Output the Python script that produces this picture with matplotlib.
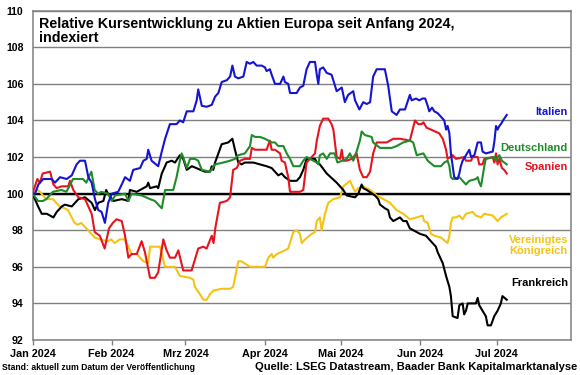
import numpy as np
import pandas as pd
import matplotlib
matplotlib.use("Agg")
import matplotlib.pyplot as plt

plt.rcParams['font.family'] = ['Liberation Sans', 'DejaVu Sans']

# ---------------- data (x = days since 2024-01-01, y = index) ----------------
start_date = "2024-01-01"
end_day = 211.2
month_ticks = ["2024-01-01", "2024-02-01", "2024-03-01", "2024-04-01",
               "2024-05-01", "2024-06-01", "2024-07-01"]
month_labels = ["Jan 2024", "Feb 2024", "Mrz 2024", "Apr 2024",
                "Mai 2024", "Jun 2024", "Jul 2024"]
y_ticks = [92, 94, 96, 98, 100, 102, 104, 106, 108, 110]

it_days = [0, 1.0, 2.3, 4.2, 7.5, 8.8, 10.8, 13.4, 15.4, 17.3,
           18.6, 20.6, 21.9, 23.2, 24.5, 25.8, 27.1, 28.4, 29.7, 31.1,
           33.6, 35.0, 36.3, 38.2, 39.5, 42.2, 43.5, 44.8, 45.4, 46.7,
           49.3, 50.7, 52.0, 53.9, 56.5, 57.8, 59.1, 60.5, 63.1, 64.4,
           65.0, 66.4, 68.3, 70.3, 71.6, 72.9, 74.2, 76.2, 77.5, 78.4,
           79.4, 80.7, 82.7, 84.0, 85.3, 86.6, 87.9, 89.9, 91.2, 91.8,
           93.1, 93.8, 95.1, 97.1, 98.4, 99.0, 100.3, 101.0, 103.6, 104.9,
           106.2, 107.5, 108.8, 110.8, 111.5, 112.1, 112.7, 114.0, 115.4, 117.3,
           119.3, 121.3, 122.5, 123.8, 125.8, 126.5, 128.2, 129.7, 131.1, 132.4,
           133.6, 135.0, 138.2, 139.5, 140.9, 142.8, 144.1, 146.1, 148.0, 148.7,
           150.4, 151.7, 153.0, 154.0, 155.0, 155.6, 156.7, 157.6, 158.9, 160.2,
           161.5, 162.2, 162.8, 163.5, 164.1, 164.8, 165.4, 166.7, 167.4, 168.0,
           168.7, 170.0, 171.3, 172.0, 173.3, 174.6, 175.9, 176.5, 177.8, 180.5,
           181.1, 181.8, 182.4, 183.1, 183.7, 185.0, 186.0]
it_vals = [100.0, 100.0, 100.5, 100.8, 100.8, 100.6, 100.9, 100.8, 101.0, 101.6,
           101.8, 101.8, 100.9, 100.6, 99.7, 99.1, 99.0, 98.4, 99.5, 100.0,
           100.1, 100.5, 100.9, 100.7, 101.3, 101.4, 101.8, 101.9, 102.4, 101.8,
           101.5, 102.3, 103.0, 103.8, 103.8, 104.0, 103.9, 104.5, 104.5, 105.1,
           105.7, 104.8, 104.75, 104.85, 105.3, 105.5, 106.1, 106.2, 106.4, 107.0,
           106.4, 106.3, 106.4, 107.2, 107.1, 107.2, 107.0, 107.0, 106.9, 106.7,
           106.8, 106.5, 106.0, 106.0, 106.4, 106.1, 106.0, 105.5, 105.5, 105.8,
           105.9, 106.8, 107.2, 107.2, 106.5, 106.0, 106.8, 106.9, 106.6, 106.5,
           105.6, 105.8, 105.0, 105.4, 105.6, 105.1, 104.6, 105.0, 104.9, 105.0,
           106.4, 106.8, 106.8, 105.9, 104.5, 104.3, 104.6, 104.6, 105.4, 105.1,
           105.2, 105.1, 105.2, 105.2, 104.8, 104.5, 104.7, 104.5, 104.4, 104.2,
           104.0, 103.5, 103.7, 103.3, 102.2, 101.5, 100.9, 100.8, 101.1, 101.5,
           101.8, 102.1, 102.4, 102.0, 102.1, 102.8, 102.8, 102.3, 102.2, 102.3,
           102.8, 103.7, 103.5, 103.7, 103.8, 104.1, 104.3]

es_days = [0, 1.9, 2.9, 4.0, 6.9, 8.2, 9.5, 11.4, 14.0, 14.7,
           16.0, 18.0, 20.6, 21.9, 23.2, 24.4, 26.4, 28.3, 30.0, 31.5,
           33.0, 35.0, 36.3, 37.6, 38.9, 40.9, 42.8, 44.1, 46.1, 48.0,
           49.3, 51.3, 52.6, 53.9, 55.9, 57.2, 59.1, 62.4, 63.7, 65.0,
           67.0, 68.3, 70.3, 71.0, 71.8, 73.5, 76.2, 77.5, 78.7, 80.1,
           81.4, 83.3, 85.3, 86.0, 87.3, 91.8, 93.1, 93.8, 95.1, 97.1,
           97.7, 99.0, 100.3, 101.0, 104.9, 106.2, 107.5, 109.5, 110.8, 111.5,
           112.7, 114.0, 116.0, 117.3, 118.0, 119.3, 120.6, 121.3, 121.9, 123.2,
           125.2, 127.1, 128.4, 129.7, 131.1, 132.4, 133.6, 135.0, 138.9, 141.5,
           144.1, 148.0, 150.0, 151.3, 152.6, 153.3, 154.6, 156.3, 159.5, 160.9,
           162.2, 162.8, 164.8, 166.1, 169.3, 170.0, 172.0, 172.6, 174.6, 175.2,
           176.5, 177.2, 180.5, 181.1, 181.8, 182.4, 183.1, 184.1, 185.0, 186.0]
es_vals = [100.0, 100.8, 100.6, 101.1, 101.2, 100.5, 100.3, 100.4, 100.4, 100.7,
           100.2, 99.8, 99.7, 99.3, 98.9, 97.9, 97.7, 97.0, 98.1, 98.4,
           98.6, 98.5, 97.7, 96.5, 96.7, 96.7, 97.4, 96.8, 95.4, 95.4,
           95.7, 97.5, 96.9, 96.5, 96.5, 96.9, 95.8, 95.8, 96.4, 97.0,
           97.1, 97.0, 97.7, 97.3, 98.2, 99.5, 99.6, 99.8, 101.3, 101.4,
           101.8, 101.9, 101.9, 102.5, 102.4, 102.4, 102.9, 102.4, 102.4, 102.2,
           101.8, 101.7, 100.9, 100.1, 100.1, 100.2, 101.7, 102.0, 102.2, 102.9,
           103.7, 104.1, 104.1, 103.8, 103.5, 102.0, 101.9, 102.4, 101.8, 101.8,
           101.9, 102.2, 101.3, 100.9, 100.9, 101.2, 102.2, 102.8, 102.8, 103.0,
           103.0, 102.9, 104.0, 103.8, 103.8, 103.9, 103.6, 103.5, 103.3, 103.0,
           102.4, 101.9, 102.1, 101.9, 102.0, 101.8, 101.8, 102.0, 102.0, 101.6,
           101.6, 101.9, 102.0, 101.7, 102.2, 101.6, 101.9, 101.4, 101.3, 101.1]

de_days = [0, 2.2, 4.1, 5.4, 8.0, 11.3, 13.3, 15.9, 19.8, 21.1,
           22.4, 23.1, 24.4, 25.7, 27.0, 29.6, 31.1, 32.4, 36.3, 37.6,
           38.9, 42.8, 46.1, 48.0, 50.0, 50.7, 52.0, 55.2, 56.5, 57.8,
           58.5, 59.1, 60.5, 61.8, 63.7, 65.0, 66.4, 69.6, 71.6, 74.8,
           77.5, 79.4, 80.7, 83.3, 85.3, 86.0, 87.3, 89.2, 91.2, 92.5,
           93.8, 95.1, 96.4, 98.4, 99.7, 101.0, 102.3, 104.9, 106.2, 107.5,
           108.8, 111.5, 112.1, 112.7, 114.0, 115.4, 116.7, 118.5, 119.6, 123.2,
           124.5, 125.8, 127.1, 128.4, 129.1, 130.4, 133.0, 133.6, 136.3, 138.9,
           140.9, 142.8, 145.4, 148.0, 149.3, 150.7, 153.3, 155.0, 157.6, 160.2,
           161.5, 162.8, 163.5, 164.1, 164.8, 166.1, 167.4, 168.7, 170.0, 171.3,
           173.9, 174.6, 175.2, 175.9, 176.5, 177.2, 177.8, 181.1, 181.8, 182.4,
           183.1, 184.1, 185.0, 186.0]
de_vals = [100.0, 99.6, 99.6, 99.7, 100.1, 100.2, 100.1, 100.8, 100.8, 100.6,
           101.0, 101.2, 100.2, 100.0, 100.1, 100.0, 99.6, 99.9, 100.0, 99.6,
           100.0, 99.9, 99.7, 99.6, 99.3, 99.2, 100.2, 100.2, 100.9, 101.8,
           102.2, 102.0, 101.4, 101.9, 101.9, 101.8, 101.3, 101.2, 101.6, 101.7,
           101.8, 101.9, 102.1, 102.2, 102.6, 103.2, 103.1, 103.1, 103.0, 102.9,
           102.8, 102.8, 102.6, 102.6, 102.2, 101.9, 101.5, 101.5, 101.8, 102.0,
           101.9, 101.7, 101.6, 102.1, 102.2, 101.9, 102.2, 102.2, 101.7, 101.9,
           102.2, 101.8, 102.3, 102.9, 103.4, 103.2, 103.1, 102.8, 102.5, 102.5,
           102.5, 102.6, 102.8, 102.9, 102.8, 102.1, 102.2, 101.8, 101.5, 101.5,
           101.7, 101.8, 101.5, 100.9, 100.8, 100.8, 100.9, 100.7, 100.5, 100.7,
           100.8, 100.9, 100.6, 100.4, 100.9, 101.5, 101.9, 102.0, 101.8, 102.0,
           102.1, 101.8, 101.7, 101.6]

fr_days = [0, 2.2, 3.6, 5.6, 8.2, 9.5, 11.5, 12.7, 15.4, 18.0,
           20.6, 23.2, 24.5, 25.8, 27.8, 28.9, 29.6, 31.7, 35.0, 37.6,
           38.2, 40.9, 44.8, 45.4, 46.1, 48.7, 49.3, 50.7, 52.0, 52.6,
           54.6, 55.9, 57.8, 59.1, 60.5, 62.5, 67.6, 69.6, 70.3, 70.9,
           71.6, 72.9, 74.2, 76.8, 78.4, 79.4, 80.7, 82.0, 83.3, 86.6,
           91.8, 93.8, 95.1, 96.4, 97.7, 99.0, 101.0, 103.6, 104.9, 106.2,
           107.5, 110.8, 111.5, 112.7, 115.4, 119.3, 121.9, 123.2, 126.5, 127.8,
           129.1, 129.7, 131.1, 134.3, 135.6, 136.3, 138.2, 139.5, 140.2, 141.5,
           142.8, 144.1, 145.4, 146.7, 148.0, 150.7, 152.0, 154.3, 156.9, 158.2,
           158.9, 160.9, 162.2, 163.5, 164.1, 164.8, 166.7, 167.4, 168.7, 169.3,
           170.0, 170.7, 173.9, 174.6, 175.2, 176.5, 177.8, 178.5, 179.8, 181.1,
           182.4, 183.7, 184.3, 186.0]
fr_vals = [100.0, 99.3, 98.9, 98.9, 98.7, 99.0, 99.3, 99.4, 99.3, 99.7,
           99.8, 99.5, 99.1, 99.5, 99.6, 100.2, 100.0, 99.6, 99.7, 99.6,
           100.2, 100.1, 100.4, 100.6, 100.3, 100.4, 100.3, 101.1, 101.5, 101.7,
           101.8, 101.7, 102.1, 101.9, 101.3, 101.5, 101.2, 101.2, 101.5, 101.3,
           101.7, 102.2, 102.7, 102.8, 103.0, 102.4, 101.7, 101.6, 101.7, 101.7,
           101.5, 101.4, 101.2, 101.0, 101.1, 100.9, 100.7, 100.7, 100.9, 101.3,
           101.9, 101.9, 101.7, 101.6, 101.1, 100.6, 100.2, 99.9, 99.8, 100.0,
           100.5, 100.3, 100.2, 99.9, 99.7, 99.4, 99.2, 99.1, 98.7, 98.5,
           98.6, 98.7, 98.5, 98.5, 98.1, 97.9, 97.8, 97.7, 97.3, 97.1,
           96.8, 96.2, 95.5, 94.9, 94.4, 93.3, 93.2, 93.9, 94.0, 93.4,
           93.6, 94.0, 94.0, 94.3, 93.9, 93.6, 93.3, 92.8, 92.8, 93.3,
           93.6, 94.0, 94.4, 94.2]

uk_days = [0, 2.2, 3.5, 5.4, 8.0, 9.3, 10.7, 12.6, 13.9, 16.5,
           17.8, 19.1, 21.8, 23.1, 24.4, 26.4, 29.6, 30.9, 32.2, 34.2,
           36.2, 37.6, 38.9, 40.9, 43.5, 45.4, 46.1, 50.0, 52.0, 55.9,
           57.8, 61.8, 63.1, 63.7, 65.7, 67.0, 68.3, 69.6, 70.9, 74.2,
           77.5, 78.7, 80.7, 82.0, 85.3, 91.2, 92.5, 93.8, 94.4, 95.8,
           99.0, 100.3, 102.3, 103.6, 104.9, 105.6, 106.9, 109.5, 110.8, 111.5,
           112.7, 113.4, 114.7, 116.0, 118.0, 120.6, 121.9, 124.5, 126.5, 127.8,
           129.7, 132.4, 135.0, 137.6, 140.2, 142.8, 145.4, 148.0, 150.7, 153.0,
           153.6, 155.0, 156.3, 157.6, 160.2, 162.8, 163.5, 164.1, 164.8, 166.1,
           167.4, 168.7, 170.0, 172.6, 173.9, 175.9, 177.2, 180.5, 182.4, 183.7,
           186.0]
uk_vals = [100.0, 100.2, 100.0, 99.7, 99.7, 99.5, 99.3, 99.2, 99.1, 98.4,
           98.3, 98.4, 98.0, 97.8, 97.6, 97.5, 97.4, 97.5, 97.3, 97.5,
           97.5, 97.1, 96.7, 96.7, 96.3, 96.2, 97.1, 97.1, 96.0, 96.0,
           95.5, 95.4, 95.3, 94.9, 94.5, 94.2, 94.2, 94.5, 94.7, 94.8,
           94.8, 94.9, 96.3, 96.3, 96.0, 96.0, 96.5, 96.7, 96.5, 96.7,
           96.9, 97.0, 97.9, 98.0, 97.8, 97.3, 97.5, 97.8, 97.9, 98.5,
           98.7, 98.0, 98.9, 99.5, 99.7, 99.8, 100.4, 100.7, 100.1, 100.3,
           100.4, 100.2, 99.9, 99.7, 99.5, 99.1, 98.9, 98.6, 98.7, 98.8,
           98.5, 98.4, 97.8, 97.7, 97.6, 97.3, 97.7, 98.4, 98.7, 98.7,
           98.8, 98.6, 98.9, 99.0, 98.8, 98.7, 98.9, 98.8, 98.5, 98.7,
           98.9]

series_names = ["Vereinigtes\nKönigreich", "Frankreich", "Spanien", "Deutschland", "Italien"]

# ---------------- styling ----------------
colors = {"Italien": "#1414D2", "Deutschland": "#1E8C28", "Spanien": "#E6141E",
          "Vereinigtes\nKönigreich": "#F5C314", "Frankreich": "#000000"}
label_y = {"Italien": 0.693, "Deutschland": 0.583, "Spanien": 0.525,
           "Vereinigtes\nKönigreich": 0.287, "Frankreich": 0.173}
data = {"Italien": (it_days, it_vals), "Deutschland": (de_days, de_vals),
        "Spanien": (es_days, es_vals), "Vereinigtes\nKönigreich": (uk_days, uk_vals),
        "Frankreich": (fr_days, fr_vals)}

W, H = 580, 375
fig = plt.figure(figsize=(W / 100, H / 100), dpi=100)
L, R, T, B = 32.5, 571, 10.7, 340
ax = fig.add_axes([L / W, 1 - B / H, (R - L) / W, (B - T) / H])

base = pd.Timestamp(start_date)
grid_c = "#808080"
ax.set_ylim(92, 110)
ax.set_yticks(y_ticks)
ax.grid(axis="y", color=grid_c, lw=1.0, zorder=1)
ax.axhline(100, color="black", lw=1.7, zorder=2)

for name in series_names:
    d, v = data[name]
    assert len(d) == len(v), name
    dates = base + pd.to_timedelta(np.array(d, dtype=float), unit="D")
    ax.plot(dates, v, color=colors[name], lw=1.5, zorder=3, solid_joinstyle="round")
    ax.text(0.9944, label_y[name], name, transform=ax.transAxes, ha="right", va="center",
            color=colors[name], fontsize=8, fontweight="bold", multialignment="right",
            linespacing=1.15, zorder=5)

ax.set_xlim(base, base + pd.Timedelta(days=end_day))
ax.set_xticks(pd.to_datetime(month_ticks))
ax.set_xticklabels(month_labels)

for s in ax.spines.values():
    s.set_color(grid_c)
    s.set_linewidth(1.1)

ax.tick_params(axis="x", length=3.5, width=1.0, color=grid_c, pad=3,
               labelsize=7.8)
ax.tick_params(axis="y", length=0, pad=6.5, labelsize=7.6)
for lab in ax.get_xticklabels() + ax.get_yticklabels():
    lab.set_fontweight("bold")

fig.text(39.3 / W, 1 - 28.3 / H, "Relative Kursentwicklung zu Aktien Europa seit Anfang 2024,",
         fontsize=10.25, fontweight="bold", va="baseline", ha="left")
fig.text(39.3 / W, 1 - 41.7 / H, "indexiert",
         fontsize=10.25, fontweight="bold", va="baseline", ha="left")

fig.text(2 / W, 1 - 368 / H, "Stand: aktuell zum Datum der Veröffentlichung",
         fontsize=6.2, fontweight="bold", va="center", ha="left")
fig.text(577 / W, 1 - 367 / H, "Quelle: LSEG Datastream, Baader Bank Kapitalmarktanalyse",
         fontsize=8, fontweight="bold", va="center", ha="right")

fig.savefig("out.png", dpi=100)
